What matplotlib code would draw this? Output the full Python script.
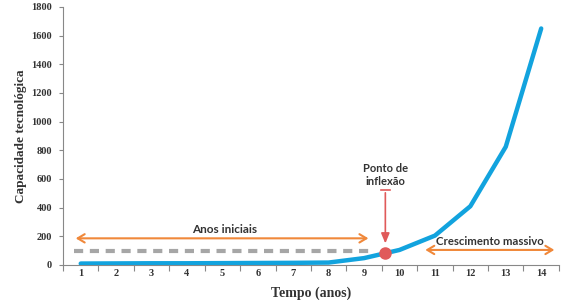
import matplotlib
matplotlib.use("Agg")
import matplotlib.pyplot as plt

years = [1, 2, 3, 4, 5, 6, 7, 8, 9, 10, 11, 12, 13, 14]
capacity = [10, 11, 12, 12, 13, 14, 15, 17, 48, 105, 205, 410, 825, 1650]
baseline_x = [0.8, 9.2]
baseline_y = [100, 100]
inflection_x = 9.6
inflection_y = 86
yticks = [0, 200, 400, 600, 800, 1000, 1200, 1400, 1600, 1800]

blue = "#12a3de"
orange = "#f0883a"
red = "#e05a5a"
gray = "#a6a6a6"
txt = "#333333"
serif = "Liberation Serif"

fig = plt.figure(figsize=(5.75, 3.0), dpi=100)
ax = fig.add_axes([0.1096, 0.1167, 0.8624, 0.86])

ax.plot(baseline_x, baseline_y, color=gray, lw=3, dashes=(2.2, 1.6), solid_capstyle="butt")
ax.plot(years, capacity, color=blue, lw=3.2, solid_capstyle="round", solid_joinstyle="round", zorder=3)

# inflection marker and arrow
ax.annotate("", xy=(inflection_x, inflection_y + 45), xytext=(inflection_x, 523),
            arrowprops=dict(arrowstyle="-|>,head_length=0.6,head_width=0.25", color=red, lw=1.2))
ax.plot([inflection_x - 0.12, inflection_x + 0.12], [523, 523], color=red, lw=1.2)
ax.plot([inflection_x], [inflection_y], "o", color=red, ms=8, zorder=4)
ax.text(inflection_x, 628, "Ponto de\ninflexão", ha="center", va="center", fontsize=8,
        color=txt, family="Lato", fontweight="bold", linespacing=1.25)

# arrows for periods
ax.annotate("", xy=(0.78, 186), xytext=(9.2, 186),
            arrowprops=dict(arrowstyle="<->,head_length=0.5,head_width=0.3", color=orange, lw=1.5))
ax.text(5.05, 245, "Anos iniciais", ha="center", va="center", fontsize=8.5, color=txt,
        family="Lato", fontweight="bold")
ax.annotate("", xy=(10.65, 105), xytext=(14.45, 105),
            arrowprops=dict(arrowstyle="<->,head_length=0.5,head_width=0.3", color=orange, lw=1.5))
ax.text(12.55, 165, "Crescimento massivo", ha="center", va="center", fontsize=8.2, color=txt,
        family="Lato", fontweight="bold")

ax.set_xlim(0.5, 14.5)
ax.set_ylim(0, 1800)
ax.set_yticks(yticks)
ax.set_yticklabels([str(v) for v in yticks], family=serif, fontsize=7.5, fontweight="bold", color=txt)
ax.set_xticks(years)
ax.set_xticklabels([str(v) for v in years], family=serif, fontsize=7.5, fontweight="bold", color=txt)
ax.set_xticks([y + 0.5 for y in years[:-1]] + [0.5, 14.5], minor=True)
ax.tick_params(axis="x", which="major", length=0, pad=3)
ax.tick_params(axis="x", which="minor", length=4, color="#888888", width=0.8, direction="out")
ax.tick_params(axis="y", length=3, color="#888888", width=0.8, pad=5)

for s in ["top", "right"]:
    ax.spines[s].set_visible(False)
for s in ["left", "bottom"]:
    ax.spines[s].set_color("#888888")
    ax.spines[s].set_linewidth(0.8)

ax.set_ylabel("Capacidade tecnológica", family=serif, fontweight="bold", fontsize=9.5, color=txt, labelpad=3)
ax.set_xlabel("Tempo (anos)", family=serif, fontweight="bold", fontsize=10, color=txt, labelpad=6)

fig.savefig("out.png", dpi=100)
